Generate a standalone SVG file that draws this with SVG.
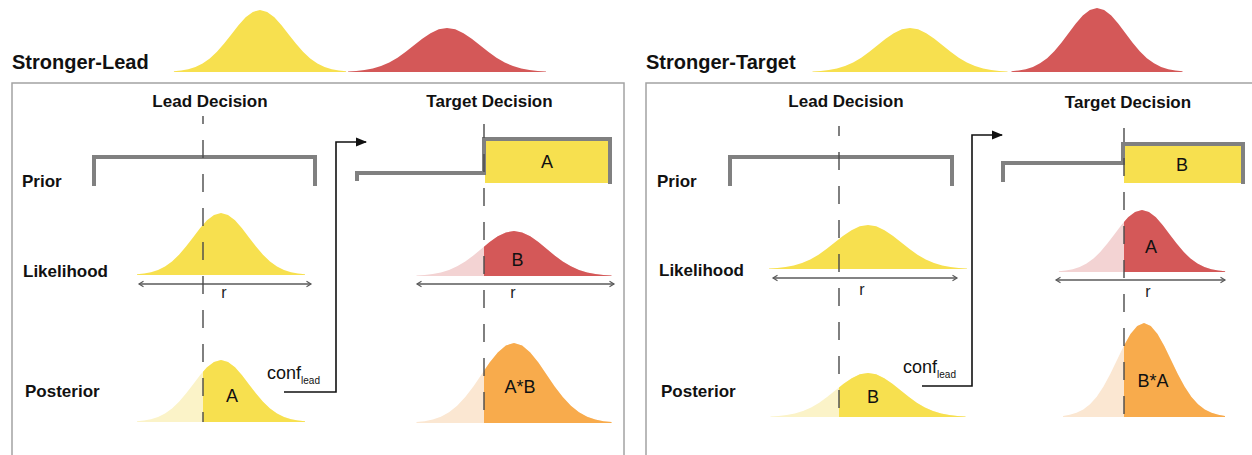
<svg xmlns="http://www.w3.org/2000/svg" xmlns:xlink="http://www.w3.org/1999/xlink" width="1252" height="455" viewBox="0 0 1252 455">
  <style>
    .title { font-family: "Liberation Sans", Arial, sans-serif; font-weight: bold; font-size: 20px; fill: #111; }
    .col { font-family: "Liberation Sans", Arial, sans-serif; font-weight: bold; font-size: 17px; fill: #111; text-anchor: middle; }
    .row { font-family: "Liberation Sans", Arial, sans-serif; font-weight: bold; font-size: 17px; fill: #111; }
    .lbl { font-family: "Liberation Sans", Arial, sans-serif; font-size: 18px; fill: #111; text-anchor: middle; }
    .r { font-family: "Liberation Sans", Arial, sans-serif; font-size: 16px; fill: #222; text-anchor: middle; }
    .conf { font-family: "Liberation Sans", Arial, sans-serif; font-size: 18px; fill: #111; }
    .sub { font-size: 10px; }
    .panel { fill: none; stroke: #a3a3a3; stroke-width: 1.5; }
    .prior { fill: none; stroke: #808080; stroke-width: 4; stroke-linejoin: miter; }
    .dash { stroke: #4a4a4a; stroke-width: 1.4; stroke-dasharray: 18 16; fill: none; }
    .axis { stroke: #5a5a5a; stroke-width: 1.3; fill: none; marker-start: url(#ax); marker-end: url(#ax); }
    .link { stroke: #111; stroke-width: 1.6; fill: none; marker-end: url(#tip); }
    .yel { fill: #f7e04f; }
    .yel-l { fill: #fbf3c8; }
    .red { fill: #d45858; }
    .red-l { fill: #f3d3d3; }
    .org { fill: #f8ab4c; }
    .org-l { fill: #fbe7d2; }
  </style>
  <defs>
    <!-- unit normal curve: x in sigma units, height 1, baseline y=0 -->
    <path id="g" d="M-3,0 L-3,-0.0111 L-2.75,-0.0228 L-2.5,-0.0439 L-2.25,-0.0796 L-2,-0.1353 L-1.75,-0.2163 L-1.5,-0.3247 L-1.25,-0.4578 L-1,-0.6065 L-0.75,-0.7548 L-0.5,-0.8825 L-0.25,-0.9692 L0,-1 L0.25,-0.9692 L0.5,-0.8825 L0.75,-0.7548 L1,-0.6065 L1.25,-0.4578 L1.5,-0.3247 L1.75,-0.2163 L2,-0.1353 L2.25,-0.0796 L2.5,-0.0439 L2.75,-0.0228 L3,-0.0111 L3,0 Z"/>
    <clipPath id="cutL1" clipPathUnits="userSpaceOnUse"><rect x="203" y="0" width="200" height="455"/></clipPath>
    <clipPath id="cutL2" clipPathUnits="userSpaceOnUse"><rect x="484" y="0" width="200" height="455"/></clipPath>
    <clipPath id="cutR1" clipPathUnits="userSpaceOnUse"><rect x="839" y="0" width="200" height="455"/></clipPath>
    <clipPath id="cutR2" clipPathUnits="userSpaceOnUse"><rect x="1124" y="0" width="200" height="455"/></clipPath>
    <marker id="tip" markerUnits="userSpaceOnUse" markerWidth="12" markerHeight="10" refX="10" refY="5" orient="auto">
      <path d="M0,0.5 L11,5 L0,9.5 Z" fill="#111"/>
    </marker>
    <marker id="ax" markerUnits="userSpaceOnUse" markerWidth="8" markerHeight="8" refX="6" refY="4" orient="auto-start-reverse">
      <path d="M1.5,1.2 L6,4 L1.5,6.8" fill="none" stroke="#5a5a5a" stroke-width="1.2"/>
    </marker>
  </defs>

  <!-- ===== Stronger-Lead ===== -->
  <g id="stronger-lead-header">
    <text class="title" x="12" y="69">Stronger-Lead</text>
    <use href="#g" class="yel" transform="translate(260,72) scale(28.7,62)"/>
    <use href="#g" class="red" transform="translate(447,72) scale(33,44)"/>
  </g>
  <rect id="stronger-lead-panel" class="panel" x="12" y="83" width="612" height="400"/>

  <g id="sl-labels">
    <text class="col" x="210" y="107">Lead Decision</text>
    <text class="col" x="489.5" y="107">Target Decision</text>
    <text class="row" x="22" y="187">Prior</text>
    <text class="row" x="23" y="277">Likelihood</text>
    <text class="row" x="25" y="397">Posterior</text>
  </g>

  <g id="sl-lead-prior">
    <path class="prior" d="M94,186 V157 H315 V186"/>
  </g>
  <g id="sl-target-prior">
    <rect class="yel" x="485" y="141" width="124" height="42"/>
    <path class="prior" d="M357,181 V173 H484 V139 H610 V184"/>
    <text class="lbl" x="547" y="168">A</text>
  </g>

  <g id="sl-lead-likelihood">
    <use href="#g" class="yel" transform="translate(221,275) scale(28,62)"/>
    <path class="axis" d="M139,284 H311"/>
    <text class="r" x="224" y="298">r</text>
  </g>
  <g id="sl-target-likelihood">
    <use href="#g" class="red-l" transform="translate(514,276) scale(32.5,45)"/>
    <g clip-path="url(#cutL2)"><use href="#g" class="red" transform="translate(514,276) scale(32.5,45)"/></g>
    <text class="lbl" x="517.5" y="266">B</text>
    <path class="axis" d="M417,284 H614"/>
    <text class="r" x="513" y="298">r</text>
  </g>

  <g id="sl-lead-posterior">
    <use href="#g" class="yel-l" transform="translate(221,422) scale(28,62)"/>
    <g clip-path="url(#cutL1)"><use href="#g" class="yel" transform="translate(221,422) scale(28,62)"/></g>
    <text class="lbl" x="232" y="402">A</text>
  </g>
  <g id="sl-target-posterior">
    <use href="#g" class="org-l" transform="translate(514,423) scale(32.5,80)"/>
    <g clip-path="url(#cutL2)"><use href="#g" class="org" transform="translate(514,423) scale(32.5,80)"/></g>
    <text class="lbl" x="520" y="393">A*B</text>
  </g>

  <g id="sl-decision-lines">
    <path class="dash" d="M203,116 V422" stroke-dashoffset="10"/>
    <path class="dash" d="M484,124 V423" stroke-dashoffset="4"/>
  </g>

  <!-- ===== Stronger-Target ===== -->
  <g id="stronger-target-header">
    <text class="title" x="646" y="69">Stronger-Target</text>
    <use href="#g" class="yel" transform="translate(910,72) scale(32.5,44)"/>
    <use href="#g" class="red" transform="translate(1097,72) scale(28.5,64)"/>
  </g>
  <rect id="stronger-target-panel" class="panel" x="646" y="83" width="700" height="400"/>

  <g id="st-labels">
    <text class="col" x="846" y="107">Lead Decision</text>
    <text class="col" x="1128" y="108">Target Decision</text>
    <text class="row" x="657" y="187">Prior</text>
    <text class="row" x="659" y="276">Likelihood</text>
    <text class="row" x="661" y="397">Posterior</text>
  </g>

  <g id="st-lead-prior">
    <path class="prior" d="M730,186 V157 H952 V186"/>
  </g>
  <g id="st-target-prior">
    <rect class="yel" x="1124" y="146" width="117" height="37"/>
    <path class="prior" d="M1003,182 V163 H1123 V144 H1243 V184"/>
    <text class="lbl" x="1182" y="171">B</text>
  </g>

  <g id="st-lead-likelihood">
    <use href="#g" class="yel" transform="translate(868,269) scale(33,44)"/>
    <path class="axis" d="M773,278 H957"/>
    <text class="r" x="862" y="295">r</text>
  </g>
  <g id="st-target-likelihood">
    <use href="#g" class="red-l" transform="translate(1142,272) scale(27.7,62)"/>
    <g clip-path="url(#cutR2)"><use href="#g" class="red" transform="translate(1142,272) scale(27.7,62)"/></g>
    <text class="lbl" x="1151" y="253">A</text>
    <path class="axis" d="M1056,280 H1225"/>
    <text class="r" x="1148" y="297">r</text>
  </g>

  <g id="st-lead-posterior">
    <use href="#g" class="yel-l" transform="translate(868,417) scale(32.5,44)"/>
    <g clip-path="url(#cutR1)"><use href="#g" class="yel" transform="translate(868,417) scale(32.5,44)"/></g>
    <text class="lbl" x="873" y="403">B</text>
  </g>
  <g id="st-target-posterior">
    <use href="#g" class="org-l" transform="translate(1144,417) scale(27,94)"/>
    <g clip-path="url(#cutR2)"><use href="#g" class="org" transform="translate(1144,417) scale(27,94)"/></g>
    <text class="lbl" x="1153" y="387">B*A</text>
  </g>

  <g id="st-decision-lines">
    <path class="dash" d="M839,126 V417" stroke-dashoffset="8"/>
    <path class="dash" d="M1124,128 V417" stroke-dashoffset="4"/>
  </g>

  <!-- confidence hand-off from lead posterior to target prior -->
  <g id="connectors">
    <path class="link" d="M284,392 H336 V142 H366"/>
    <text class="conf" x="267" y="379">conf<tspan class="sub" dy="5">lead</tspan></text>
    <path class="link" d="M922,386 H972 V135 H1002"/>
    <text class="conf" x="903" y="373">conf<tspan class="sub" dy="5">lead</tspan></text>
  </g>
</svg>
